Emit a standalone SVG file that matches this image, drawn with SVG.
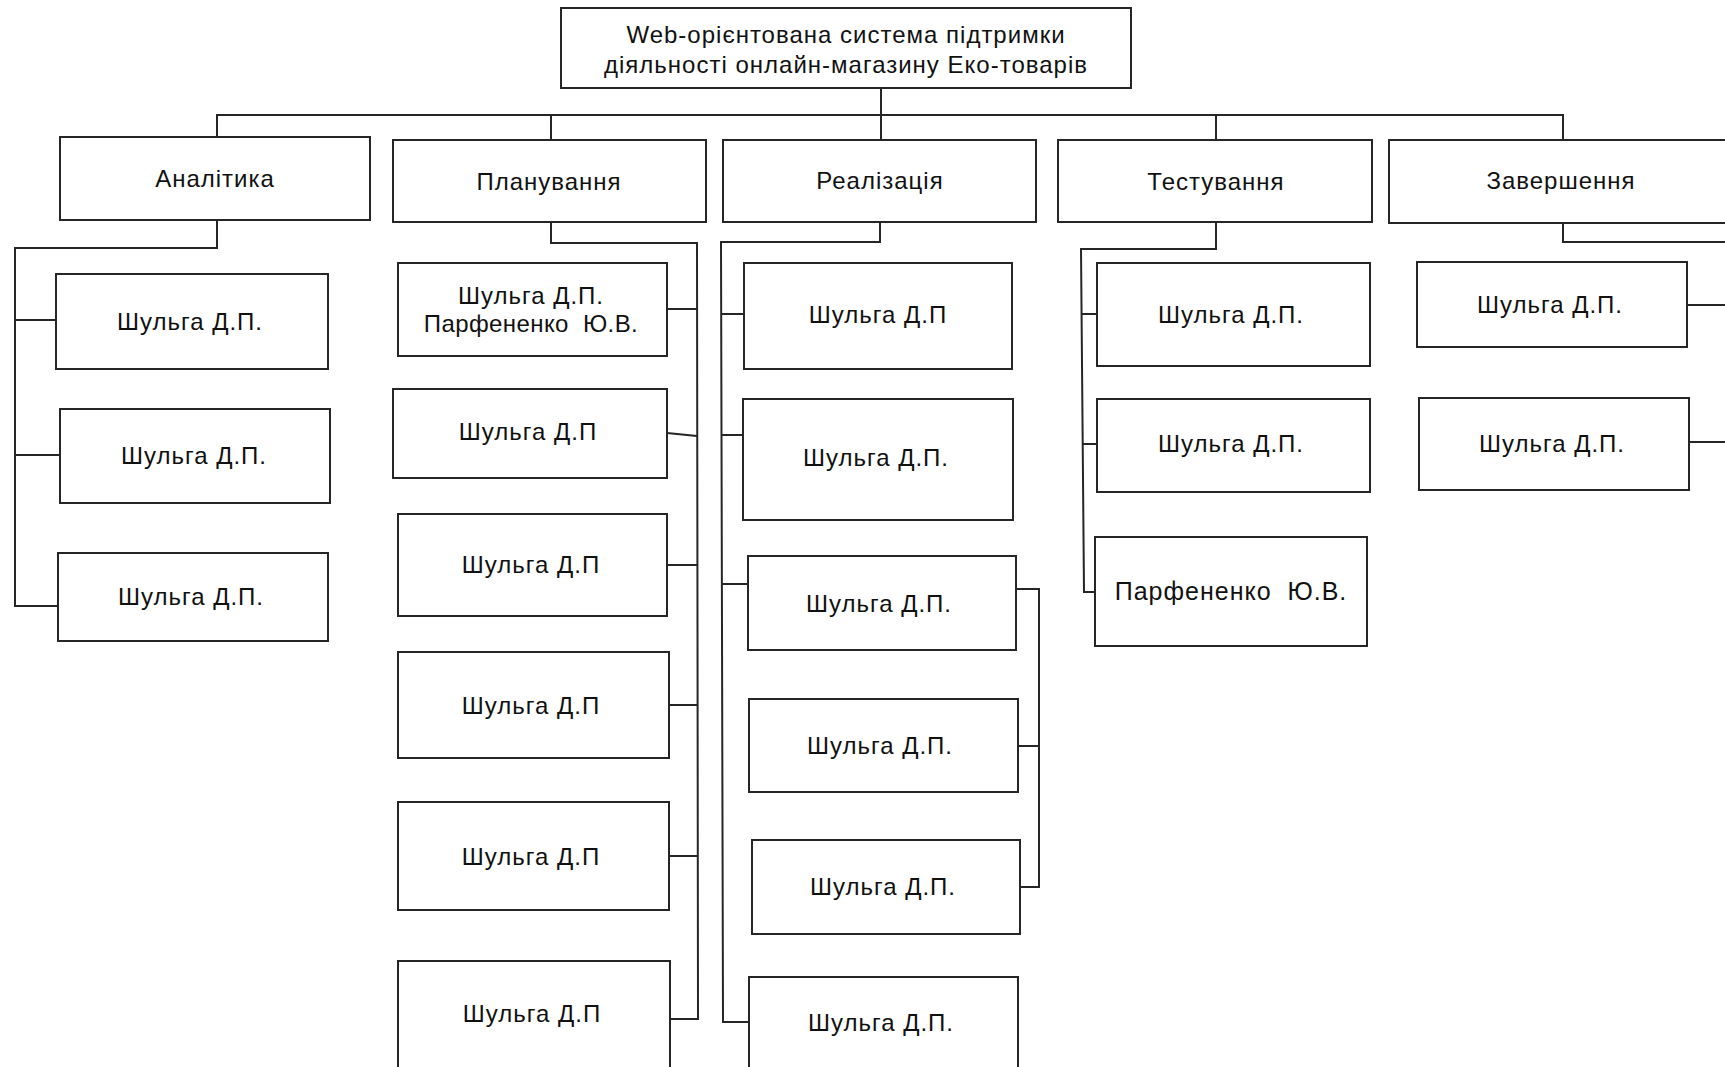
<svg xmlns="http://www.w3.org/2000/svg" width="1725" height="1067" viewBox="0 0 1725 1067">
  <style>
    .box { fill: #ffffff; stroke: #262626; stroke-width: 2; }
    .wire { fill: none; stroke: #262626; stroke-width: 2; }
    .lbl { font-family: "Liberation Sans", Arial, sans-serif; font-size: 24px; letter-spacing: 1px; fill: #111111; text-anchor: middle; dominant-baseline: central; }
    .pre { white-space: pre; }
  </style>
  <rect width="1725" height="1067" fill="#ffffff"/>

  <!-- connectors -->
  <g id="connectors" class="wire">
    <!-- root to phases -->
    <path d="M881 88 V115"/>
    <path d="M217 136 V115 H1563 V140"/>
    <path d="M551 115 V140"/>
    <path d="M881 115 V140"/>
    <path d="M1216 115 V140"/>
    <!-- Аналітика -->
    <path d="M217 220 V248 H15 V606 H58"/>
    <path d="M15 320 H56"/>
    <path d="M15 455 H60"/>
    <!-- Планування -->
    <path d="M551 222 V243 H697 L698 1019 H670"/>
    <path d="M667 309 H697"/>
    <path d="M667 433 L697 436"/>
    <path d="M667 565 H697"/>
    <path d="M669 705 H697"/>
    <path d="M669 856 H698"/>
    <!-- Реалізація -->
    <path d="M880 222 V242 H721 L723 1022 H749"/>
    <path d="M721 314 H744"/>
    <path d="M721 435 H743"/>
    <path d="M722 584 H748"/>
    <path d="M1016 589 H1039 V887 H1020"/>
    <path d="M1018 746 H1039"/>
    <!-- Тестування -->
    <path d="M1216 222 V249 H1081 L1084 592 H1095"/>
    <path d="M1081 314 H1097"/>
    <path d="M1082 444 H1097"/>
    <!-- Завершення -->
    <path d="M1563 223 V242 H1725"/>
    <path d="M1687 305 H1725"/>
    <path d="M1689 442 H1725"/>
  </g>

  <!-- root -->
  <g id="root">
    <rect class="box" x="561" y="8" width="570" height="80"/>
    <text class="lbl" x="846" y="34">Web-орієнтована система підтримки</text>
    <text class="lbl" x="846" y="64">діяльності онлайн-магазину Еко-товарів</text>
  </g>

  <!-- phases -->
  <g id="phase-analytics">
    <rect class="box" x="60" y="137" width="310" height="83"/>
    <text class="lbl" x="215" y="178">Аналітика</text>
  </g>
  <g id="phase-planning">
    <rect class="box" x="393" y="140" width="313" height="82"/>
    <text class="lbl" x="549" y="181">Планування</text>
  </g>
  <g id="phase-implementation">
    <rect class="box" x="723" y="140" width="313" height="82"/>
    <text class="lbl" x="880" y="180">Реалізація</text>
  </g>
  <g id="phase-testing">
    <rect class="box" x="1058" y="140" width="314" height="82"/>
    <text class="lbl" x="1216" y="181">Тестування</text>
  </g>
  <g id="phase-completion">
    <rect class="box" x="1389" y="140" width="350" height="83"/>
    <text class="lbl" x="1561" y="180">Завершення</text>
  </g>

  <!-- Аналітика tasks -->
  <g id="a1"><rect class="box" x="56" y="274" width="272" height="95"/><text class="lbl" x="190" y="321">Шульга Д.П.</text></g>
  <g id="a2"><rect class="box" x="60" y="409" width="270" height="94"/><text class="lbl" x="194" y="455">Шульга Д.П.</text></g>
  <g id="a3"><rect class="box" x="58" y="553" width="270" height="88"/><text class="lbl" x="191" y="596">Шульга Д.П.</text></g>

  <!-- Планування tasks -->
  <g id="p1"><rect class="box" x="398" y="263" width="269" height="93"/><text class="lbl" x="531" y="295">Шульга Д.П.</text><text class="lbl pre" x="531" y="323" style="letter-spacing:0.4px">Парфененко  Ю.В.</text></g>
  <g id="p2"><rect class="box" x="393" y="389" width="274" height="89"/><text class="lbl" x="528" y="431">Шульга Д.П</text></g>
  <g id="p3"><rect class="box" x="398" y="514" width="269" height="102"/><text class="lbl" x="531" y="564">Шульга Д.П</text></g>
  <g id="p4"><rect class="box" x="398" y="652" width="271" height="106"/><text class="lbl" x="531" y="705">Шульга Д.П</text></g>
  <g id="p5"><rect class="box" x="398" y="802" width="271" height="108"/><text class="lbl" x="531" y="856">Шульга Д.П</text></g>
  <g id="p6"><rect class="box" x="398" y="961" width="272" height="120"/><text class="lbl" x="532" y="1013">Шульга Д.П</text></g>

  <!-- Реалізація tasks -->
  <g id="r1"><rect class="box" x="744" y="263" width="268" height="106"/><text class="lbl" x="878" y="314">Шульга Д.П</text></g>
  <g id="r2"><rect class="box" x="743" y="399" width="270" height="121"/><text class="lbl" x="876" y="457">Шульга Д.П.</text></g>
  <g id="r3"><rect class="box" x="748" y="556" width="268" height="94"/><text class="lbl" x="879" y="603">Шульга Д.П.</text></g>
  <g id="r4"><rect class="box" x="749" y="699" width="269" height="93"/><text class="lbl" x="880" y="745">Шульга Д.П.</text></g>
  <g id="r5"><rect class="box" x="752" y="840" width="268" height="94"/><text class="lbl" x="883" y="886">Шульга Д.П.</text></g>
  <g id="r6"><rect class="box" x="749" y="977" width="269" height="100"/><text class="lbl" x="881" y="1022">Шульга Д.П.</text></g>

  <!-- Тестування tasks -->
  <g id="t1"><rect class="box" x="1097" y="263" width="273" height="103"/><text class="lbl" x="1231" y="314">Шульга Д.П.</text></g>
  <g id="t2"><rect class="box" x="1097" y="399" width="273" height="93"/><text class="lbl" x="1231" y="443">Шульга Д.П.</text></g>
  <g id="t3"><rect class="box" x="1095" y="537" width="272" height="109"/><text class="lbl pre" x="1231" y="591" style="font-size:25px">Парфененко  Ю.В.</text></g>

  <!-- Завершення tasks -->
  <g id="z1"><rect class="box" x="1417" y="262" width="270" height="85"/><text class="lbl" x="1550" y="304">Шульга Д.П.</text></g>
  <g id="z2"><rect class="box" x="1419" y="398" width="270" height="92"/><text class="lbl" x="1552" y="443">Шульга Д.П.</text></g>
</svg>
